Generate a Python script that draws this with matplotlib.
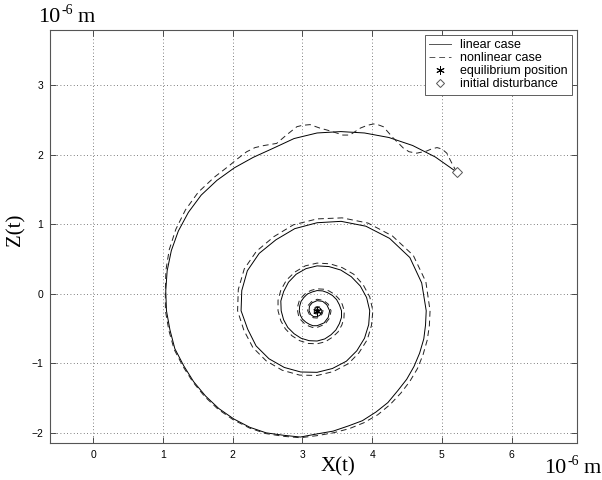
import matplotlib
matplotlib.use("Agg")
import matplotlib.pyplot as plt
from matplotlib.lines import Line2D

plt.rcParams['font.family'] = ['Liberation Sans', 'DejaVu Sans']

# Trajectory of the linearised model (units of 1e-6 m)
lin_x = [5.21, 4.905, 4.58, 4.24, 3.89, 3.55, 3.21, 2.88, 2.58, 2.295,
         2.025, 1.775, 1.548, 1.365, 1.22, 1.12, 1.06, 1.04, 1.05, 1.10,
         1.17, 1.30, 1.44, 1.61, 1.80, 2.015, 2.245, 2.48, 2.73, 2.97,
         3.21, 3.44, 3.66, 3.86, 4.055, 4.225, 4.37, 4.495, 4.60, 4.68,
         4.74, 4.765, 4.775, 4.71, 4.54, 4.25, 3.91, 3.555, 3.21, 2.89,
         2.62, 2.38, 2.21, 2.13, 2.12, 2.215, 2.335, 2.52, 2.74, 2.975,
         3.21, 3.43, 3.63, 3.78, 3.89, 3.95, 3.965, 3.92, 3.83, 3.70,
         3.55, 3.38, 3.21, 3.05, 2.91, 2.80, 2.73, 2.69, 2.695, 2.73,
         2.79, 2.88, 2.98, 3.095, 3.21, 3.32, 3.41, 3.48, 3.53, 3.56,
         3.56, 3.53, 3.49, 3.43, 3.36, 3.29, 3.21, 3.14, 3.07, 3.02,
         2.98, 2.96, 2.955, 2.97, 3.00, 3.05, 3.10, 3.15, 3.21, 3.31,
         3.37, 3.39, 3.35, 3.29, 3.21, 3.14, 3.10, 3.095, 3.12, 3.16,
         3.21, 3.25, 3.27, 3.28, 3.26, 3.24, 3.21, 3.19, 3.17, 3.17,
         3.18, 3.19, 3.21, 3.23, 3.24, 3.24, 3.23, 3.21, 3.195, 3.20,
         3.21]
lin_z = [1.75, 1.965, 2.13, 2.245, 2.31, 2.33, 2.31, 2.23, 2.09, 1.96,
         1.81, 1.63, 1.417, 1.17, 0.90, 0.62, 0.33, 0.04, -0.245, -0.52,
         -0.79, -1.04, -1.265, -1.47, -1.65, -1.80, -1.92, -2.00, -2.035, -2.06,
         -2.015, -1.975, -1.90, -1.825, -1.70, -1.565, -1.39, -1.23, -1.045, -0.855,
         -0.65, -0.45, -0.245, 0.155, 0.52, 0.795, 0.97, 1.04, 1.02, 0.935,
         0.775, 0.58, 0.33, 0.045, -0.245, -0.51, -0.75, -0.935, -1.06, -1.125,
         -1.13, -1.075, -0.97, -0.82, -0.64, -0.445, -0.245, -0.055, 0.11, 0.245,
         0.34, 0.39, 0.40, 0.36, 0.28, 0.165, 0.03, -0.105, -0.245, -0.375,
         -0.485, -0.575, -0.64, -0.675, -0.68, -0.65, -0.59, -0.52, -0.43, -0.34,
         -0.245, -0.16, -0.085, -0.025, 0.015, 0.04, 0.045, 0.025, -0.005, -0.055,
         -0.11, -0.18, -0.245, -0.31, -0.365, -0.41, -0.44, -0.46, -0.46, -0.42,
         -0.34, -0.245, -0.16, -0.11, -0.10, -0.13, -0.18, -0.245, -0.30, -0.33,
         -0.33, -0.31, -0.28, -0.245, -0.215, -0.20, -0.195, -0.205, -0.225, -0.245,
         -0.265, -0.28, -0.28, -0.27, -0.255, -0.245, -0.23, -0.225, -0.235, -0.25,
         -0.245]

# Trajectory of the full nonlinear model
nl_x = [5.21, 5.14, 5.07, 5.00, 4.93, 4.85, 4.78, 4.64, 4.53, 4.45,
        4.30, 4.16, 4.08, 4.02, 3.93, 3.83, 3.68, 3.58, 3.49, 3.36,
        3.25, 3.11, 3.00, 2.92, 2.77, 2.63, 2.45, 2.32, 2.20, 2.07,
        1.95, 1.737, 1.506, 1.322, 1.184, 1.09, 1.042, 1.034, 1.035, 1.085,
        1.16, 1.29, 1.43, 1.60, 1.79, 2.005, 2.24, 2.475, 2.73, 2.97,
        3.21, 3.44, 3.67, 3.88, 4.08, 4.255, 4.41, 4.54, 4.65, 4.73,
        4.79, 4.82, 4.83, 4.77, 4.59, 4.29, 3.94, 3.57, 3.21, 2.87,
        2.59, 2.34, 2.165, 2.08, 2.07, 2.16, 2.29, 2.48, 2.71, 2.96,
        3.21, 3.44, 3.66, 3.81, 3.93, 3.99, 4.01, 3.965, 3.87, 3.735,
        3.57, 3.395, 3.21, 3.04, 2.89, 2.77, 2.69, 2.65, 2.65, 2.69,
        2.755, 2.85, 2.96, 3.085, 3.21, 3.33, 3.43, 3.51, 3.565, 3.595,
        3.60, 3.57, 3.52, 3.455, 3.38, 3.30, 3.21, 3.13, 3.055, 3.00,
        2.955, 2.935, 2.93, 2.945, 2.98, 3.03, 3.09, 3.145, 3.21, 3.32,
        3.39, 3.41, 3.37, 3.30, 3.21, 3.13, 3.08, 3.075, 3.105, 3.155,
        3.21, 3.26, 3.285, 3.295, 3.27, 3.245, 3.21, 3.185, 3.165, 3.16,
        3.17, 3.19, 3.21, 3.235, 3.245, 3.245, 3.23, 3.21, 3.19, 3.20,
        3.21]
nl_z = [1.75, 1.88, 2.02, 2.08, 2.10, 2.08, 2.05, 2.02, 2.04, 2.09,
        2.24, 2.40, 2.43, 2.44, 2.42, 2.38, 2.28, 2.28, 2.31, 2.35,
        2.38, 2.43, 2.42, 2.40, 2.28, 2.16, 2.13, 2.10, 2.04, 1.94,
        1.84, 1.675, 1.459, 1.204, 0.925, 0.633, 0.336, 0.041, -0.245, -0.53,
        -0.80, -1.05, -1.27, -1.48, -1.66, -1.81, -1.93, -2.01, -2.05, -2.07,
        -2.04, -2.00, -1.94, -1.855, -1.74, -1.595, -1.43, -1.26, -1.075, -0.875,
        -0.665, -0.46, -0.245, 0.17, 0.55, 0.83, 1.015, 1.09, 1.075, 0.99,
        0.82, 0.61, 0.355, 0.06, -0.245, -0.525, -0.775, -0.965, -1.10, -1.17,
        -1.175, -1.12, -1.005, -0.85, -0.66, -0.455, -0.245, -0.045, 0.13, 0.28,
        0.375, 0.43, 0.44, 0.40, 0.31, 0.195, 0.05, -0.095, -0.245, -0.39,
        -0.505, -0.605, -0.675, -0.715, -0.72, -0.69, -0.625, -0.55, -0.45, -0.35,
        -0.245, -0.15, -0.07, -0.005, 0.04, 0.065, 0.07, 0.05, 0.015, -0.04,
        -0.10, -0.17, -0.245, -0.32, -0.38, -0.43, -0.465, -0.485, -0.485, -0.44,
        -0.35, -0.245, -0.15, -0.095, -0.08, -0.115, -0.17, -0.245, -0.31, -0.345,
        -0.35, -0.32, -0.285, -0.245, -0.21, -0.19, -0.185, -0.195, -0.22, -0.245,
        -0.27, -0.29, -0.29, -0.275, -0.255, -0.24, -0.225, -0.22, -0.235, -0.255,
        -0.245]

eq_point = (3.21, -0.245)
start_point = (5.21, 1.75)

x_ticks = [0, 1, 2, 3, 4, 5, 6]
z_ticks = [-2, -1, 0, 1, 2, 3]
legend_labels = ['linear case', 'nonlinear case', 'equilibrium position', 'initial disturbance']

fig = plt.figure(figsize=(6.02, 4.8), dpi=100)
ax = fig.add_axes([50 / 602, 1 - 443.3 / 480, 526.5 / 602, 413.3 / 480])

dash = (0, (6, 4))
ax.plot(lin_x, lin_z, color='black', lw=0.7, ls='-')
ax.plot(nl_x, nl_z, color='#222222', lw=0.7, ls=dash)
asterisk = (6, 2, 0)
ax.plot([eq_point[0]], [eq_point[1]], ls='none', marker=asterisk, ms=6,
        mec='black', mew=0.7)
ax.plot([start_point[0]], [start_point[1]], ls='none', marker='D', ms=5.2,
        mfc='white', mec='#555555', mew=0.7)

ax.set_xlim(-0.62, 6.93)
ax.set_ylim(-2.15, 3.79)
ax.set_xticks(x_ticks)
ax.set_yticks(z_ticks)
ax.set_xticklabels([str(v) for v in x_ticks])
ax.set_yticklabels([str(v).replace('-', '\u2212') for v in z_ticks])
ax.grid(True, ls=(0, (1, 3)), color='#555555', lw=0.6)
ax.tick_params(direction='in', length=4, width=0.6, labelsize=7.5, top=True,
               right=True, pad=5, colors='#333333', labelcolor='black')
for sp in ax.spines.values():
    sp.set_color('#555555')
    sp.set_linewidth(0.8)

handles = [
    Line2D([], [], color='#555555', lw=0.7, ls='-'),
    Line2D([], [], color='#555555', lw=0.7, ls=dash),
    Line2D([], [], ls='none', marker=asterisk, ms=6, mec='black', mew=0.7),
    Line2D([], [], ls='none', marker='D', ms=4.5, mfc='white', mec='#555555', mew=0.7),
]
leg = ax.legend(handles, legend_labels, loc='upper right', fontsize=9,
                frameon=True, fancybox=False, framealpha=1, edgecolor='#444444',
                borderaxespad=0.4, handlelength=1.8, handletextpad=0.65,
                labelspacing=0.08, borderpad=0.35)
leg.get_frame().set_linewidth(0.6)


def unit_label(x0, baseline):
    """Write '10^-6 m' in a serif face with a hyphen exponent."""
    fig.text(x0 / 602, 1 - baseline / 480, '10', fontsize=16,
             family='Liberation Serif', ha='left', va='baseline')
    fig.text((x0 + 23) / 602, 1 - (baseline - 8) / 480, '-6', fontsize=10,
             family='Liberation Serif', ha='left', va='baseline')
    fig.text((x0 + 40) / 602, 1 - baseline / 480, 'm', fontsize=16,
             family='Liberation Serif', ha='left', va='baseline')


unit_label(38, 22)
unit_label(544, 473)
fig.text(338 / 602, 1 - 467 / 480, 'X(t)', fontsize=15, family='Liberation Serif',
         ha='center', va='center')
fig.text(16 / 602, 1 - 230 / 480, 'Z(t)', fontsize=15, family='Liberation Serif',
         ha='center', va='center', rotation=90)

fig.savefig('out.png', dpi=100)
